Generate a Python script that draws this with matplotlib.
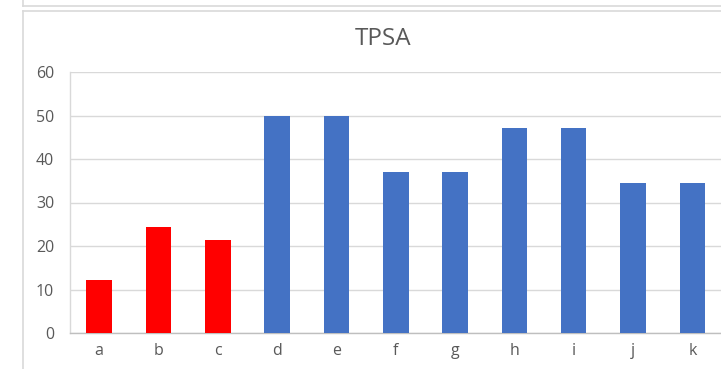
import matplotlib.pyplot as plt
from matplotlib.lines import Line2D

plt.rcParams['font.family'] = ['Open Sans', 'DejaVu Sans']

categories = ['a', 'b', 'c', 'd', 'e', 'f', 'g', 'h', 'i', 'j', 'k']
tpsa = [12.2, 24.3, 21.4, 50.0, 50.0, 37.0, 37.0, 47.1, 47.1, 34.4, 34.4]
bar_colors = ['#FF0000'] * 3 + ['#4472C4'] * 8

W, H = 721, 369
fig = plt.figure(figsize=(W / 100, H / 100), dpi=100)

# frame lines of the chart box (and the one above it)
def px_line(x0, y0, x1, y1):
    fig.add_artist(Line2D([x0 / W, x1 / W], [1 - y0 / H, 1 - y1 / H],
                          transform=fig.transFigure, color='#D9D9D9', lw=1.2))

px_line(22.5, 0, 22.5, 6)
px_line(22.5, 6, W, 6)
px_line(22.5, 10.5, W, 10.5)
px_line(22.5, 10.5, 22.5, H)

ax = fig.add_axes([69.5 / W, 1 - 333 / H, (652.5) / W, (333 - 72) / H])
ax.bar(range(len(categories)), tpsa, width=0.43, color=bar_colors, zorder=3)

ax.set_xlim(-0.5, len(categories) - 0.5)
ax.set_ylim(0, 60)
ax.set_yticks(range(0, 61, 10))
ax.set_xticks(range(len(categories)))
ax.set_xticklabels(categories)
ax.yaxis.grid(True, color='#D9D9D9', lw=1.0, zorder=0)

for side in ['top', 'right']:
    ax.spines[side].set_visible(False)
ax.spines['left'].set_color('#D9D9D9')
ax.spines['bottom'].set_color('#BFBFBF')
ax.spines['left'].set_linewidth(1.0)
ax.spines['bottom'].set_linewidth(1.0)
ax.tick_params(axis='both', length=0, labelsize=11.5, labelcolor='#595959')
ax.tick_params(axis='y', pad=11)
ax.tick_params(axis='x', pad=7)

fig.text(383.5 / W, 1 - 39 / H, 'TPSA', ha='center', va='center',
         fontsize=17.5, color='#595959')

fig.savefig('out.png', dpi=100)
